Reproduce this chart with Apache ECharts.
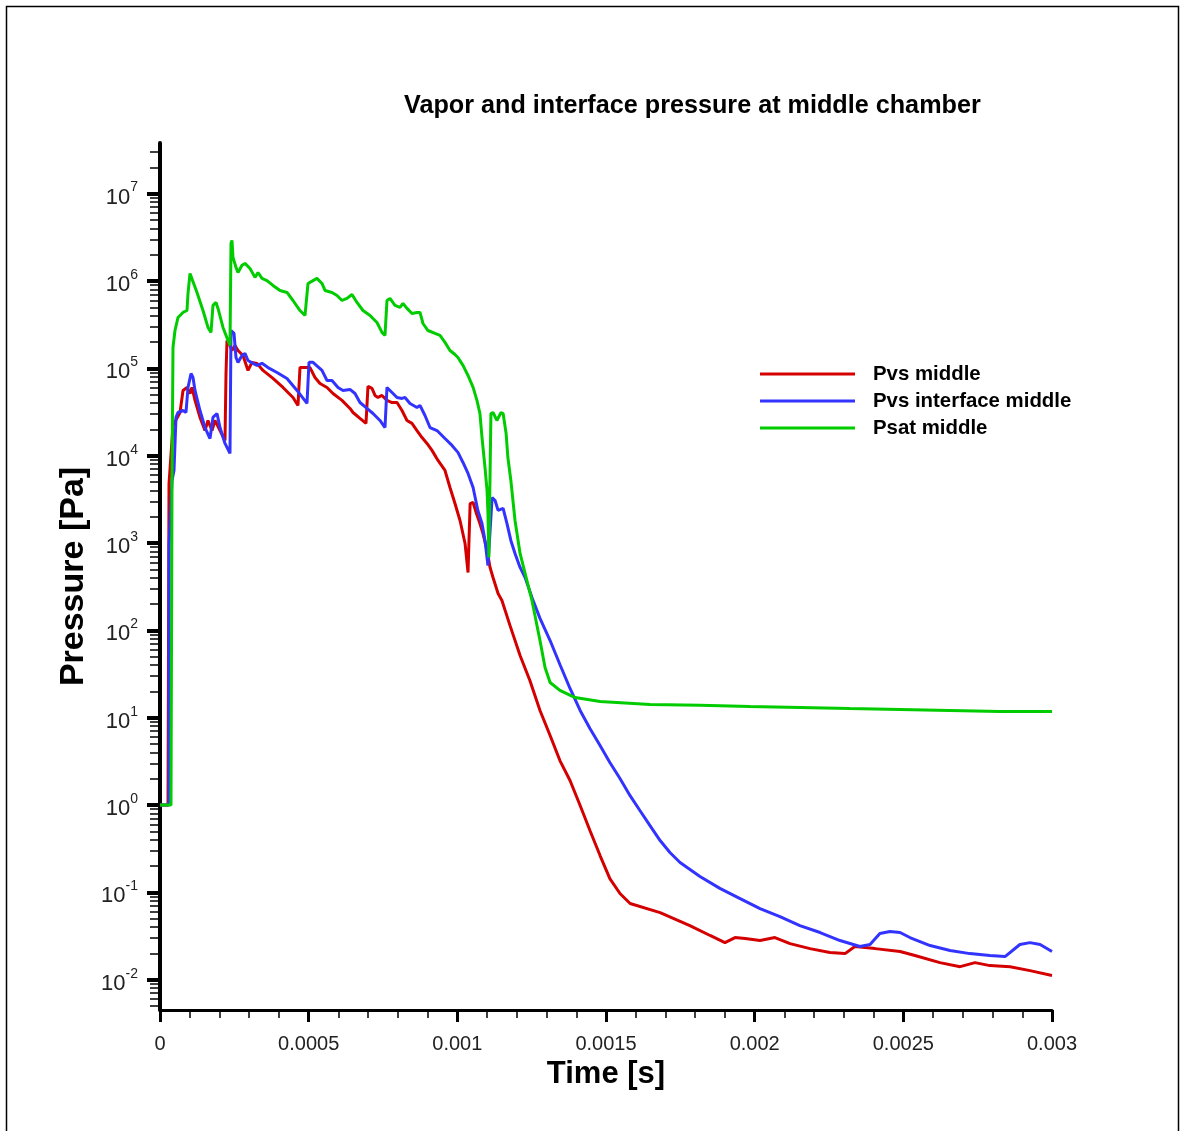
<!DOCTYPE html>
<html>
<head>
<meta charset="utf-8">
<script src="https://cdn.jsdelivr.net/npm/echarts@6/dist/echarts.min.js"></script>
<style>
  html, body { margin: 0; padding: 0; background: #fff; }
  #chart { width: 1182px; height: 1131px; }
</style>
</head>
<body>
<div id="chart"></div>
<script>
// Series: [time (s), pressure (Pa)]
const pvsMiddle = [
  [0, 1.0], [2.69e-5, 1.0], [3.03e-5, 4.8e3], [4.37e-5, 2.22e4], [6.73e-5, 3.12e4],
  [7.74e-5, 5.58e4], [9.08e-5, 6.04e4], [1.009e-4, 5.15e4], [1.076e-4, 6.04e4], [1.177e-4, 4.29e4],
  [1.345e-4, 2.74e4], [1.513e-4, 1.94e4], [1.614e-4, 2.53e4], [1.749e-4, 1.94e4], [1.85e-4, 2.53e4],
  [2.018e-4, 1.94e4], [2.186e-4, 1.49e4], [2.22e-4, 8.73e4], [2.253e-4, 2.08e5], [2.354e-4, 1.83e5],
  [2.421e-4, 1.60e5], [2.522e-4, 1.83e5], [2.623e-4, 1.60e5], [2.791e-4, 1.40e5], [2.96e-4, 9.46e4],
  [3.094e-4, 1.17e5], [3.262e-4, 1.14e5], [3.464e-4, 9.46e4], [3.8e-4, 7.66e4], [4.137e-4, 6.04e4],
  [4.473e-4, 4.64e4], [4.641e-4, 3.76e4], [4.708e-4, 1.02e5], [5.045e-4, 1.02e5], [5.213e-4, 7.86e4],
  [5.381e-4, 6.71e4], [5.617e-4, 6.04e4], [5.818e-4, 5.15e4], [6.121e-4, 4.29e4], [6.39e-4, 3.47e4],
  [6.491e-4, 3.12e4], [6.726e-4, 2.67e4], [6.928e-4, 2.34e4], [6.995e-4, 6.2e4], [7.13e-4, 5.88e4],
  [7.231e-4, 4.89e4], [7.332e-4, 4.64e4], [7.466e-4, 4.89e4], [7.634e-4, 4.29e4], [7.803e-4, 4.06e4],
  [7.971e-4, 4.06e4], [8.139e-4, 3.29e4], [8.307e-4, 2.53e4], [8.475e-4, 2.34e4], [8.643e-4, 1.94e4],
  [8.812e-4, 1.61e4], [8.98e-4, 1.38e4], [9.148e-4, 1.15e4], [9.35e-4, 8.81e3], [9.585e-4, 6.77e3],
  [9.753e-4, 4.32e3], [9.921e-4, 2.83e3], [1.009e-3, 1.81e3], [1.026e-3, 987], [1.036e-3, 459],
  [1.043e-3, 2.83e3], [1.053e-3, 2.91e3], [1.063e-3, 2.24e3], [1.076e-3, 1.67e3], [1.086e-3, 1.29e3],
  [1.1e-3, 821], [1.11e-3, 525], [1.12e-3, 403], [1.137e-3, 264], [1.15e-3, 220],
  [1.177e-3, 114], [1.211e-3, 51.5], [1.244e-3, 26.6], [1.278e-3, 12.1], [1.312e-3, 6.25],
  [1.345e-3, 3.23], [1.379e-3, 1.91], [1.413e-3, 0.987], [1.446e-3, 0.511], [1.48e-3, 0.264],
  [1.513e-3, 0.144], [1.547e-3, 0.097], [1.581e-3, 0.0745], [1.682e-3, 0.0587], [1.782e-3, 0.0417],
  [1.85e-3, 0.0321], [1.9e-3, 0.0266], [1.934e-3, 0.0304], [1.968e-3, 0.0296], [2.018e-3, 0.0281],
  [2.068e-3, 0.0304], [2.119e-3, 0.0259], [2.186e-3, 0.0227], [2.253e-3, 0.0205], [2.304e-3, 0.0199],
  [2.337e-3, 0.024], [2.405e-3, 0.0227], [2.489e-3, 0.021], [2.539e-3, 0.0189], [2.623e-3, 0.0157],
  [2.691e-3, 0.0141], [2.741e-3, 0.0157], [2.791e-3, 0.0145], [2.859e-3, 0.0141], [2.926e-3, 0.0127],
  [3.0e-3, 0.0112]
];

const pvsInterfaceMiddle = [
  [0, 1.0], [3.0e-5, 1.0], [3.03e-5, 937], [4.04e-5, 5.2e3], [4.71e-5, 6.77e3],
  [5.38e-5, 2.74e4], [6.05e-5, 3.12e4], [7.74e-5, 3.29e4], [8.74e-5, 3.12e4], [9.42e-5, 6.04e4],
  [1.043e-4, 8.73e4], [1.11e-4, 7.86e4], [1.177e-4, 5.58e4], [1.345e-4, 3.29e4], [1.513e-4, 2.1e4],
  [1.682e-4, 1.57e4], [1.782e-4, 2.74e4], [1.917e-4, 3.04e4], [2.018e-4, 2.1e4], [2.186e-4, 1.38e4],
  [2.354e-4, 1.06e4], [2.388e-4, 2.71e5], [2.489e-4, 2.51e5], [2.556e-4, 1.33e5], [2.623e-4, 1.17e5],
  [2.758e-4, 1.40e5], [2.859e-4, 1.48e5], [2.96e-4, 1.23e5], [3.128e-4, 1.14e5], [3.262e-4, 1.08e5],
  [3.43e-4, 1.14e5], [3.632e-4, 1.02e5], [3.935e-4, 8.97e4], [4.271e-4, 7.66e4], [4.608e-4, 5.58e4],
  [4.944e-4, 3.96e4], [5.011e-4, 1.17e5], [5.146e-4, 1.17e5], [5.448e-4, 9.46e4], [5.617e-4, 7.26e4],
  [5.785e-4, 7.26e4], [5.987e-4, 6.04e4], [6.155e-4, 5.58e4], [6.39e-4, 5.73e4], [6.558e-4, 5.15e4],
  [6.726e-4, 4.06e4], [6.962e-4, 3.47e4], [7.164e-4, 3.04e4], [7.399e-4, 2.53e4], [7.567e-4, 2.1e4],
  [7.634e-4, 6.04e4], [7.803e-4, 5.29e4], [7.971e-4, 4.64e4], [8.139e-4, 4.52e4], [8.24e-4, 4.64e4],
  [8.408e-4, 3.96e4], [8.643e-4, 3.56e4], [8.744e-4, 3.76e4], [8.912e-4, 2.88e4], [9.081e-4, 2.1e4],
  [9.316e-4, 1.94e4], [9.585e-4, 1.57e4], [9.821e-4, 1.31e4], [1.002e-3, 1.09e4], [1.019e-3, 8.36e3],
  [1.036e-3, 6.25e3], [1.053e-3, 4.32e3], [1.069e-3, 2.36e3], [1.083e-3, 1.67e3], [1.093e-3, 1.07e3],
  [1.103e-3, 553], [1.117e-3, 3.32e3], [1.127e-3, 3.07e3], [1.137e-3, 2.36e3], [1.154e-3, 2.49e3],
  [1.167e-3, 1.67e3], [1.18e-3, 1.07e3], [1.194e-3, 759], [1.211e-3, 525], [1.228e-3, 403],
  [1.251e-3, 238], [1.278e-3, 137], [1.312e-3, 76.5], [1.345e-3, 40.6], [1.379e-3, 21.6],
  [1.413e-3, 12.1], [1.446e-3, 7.52], [1.48e-3, 4.8], [1.513e-3, 3.07], [1.547e-3, 2.01],
  [1.581e-3, 1.28], [1.614e-3, 0.865], [1.648e-3, 0.582], [1.682e-3, 0.392], [1.715e-3, 0.286],
  [1.749e-3, 0.22], [1.816e-3, 0.152], [1.883e-3, 0.111], [1.951e-3, 0.085], [2.018e-3, 0.0653],
  [2.085e-3, 0.0529], [2.152e-3, 0.0417], [2.22e-3, 0.0347], [2.287e-3, 0.0281], [2.354e-3, 0.024],
  [2.388e-3, 0.0253], [2.421e-3, 0.0338], [2.455e-3, 0.0356], [2.489e-3, 0.0347], [2.522e-3, 0.0304],
  [2.59e-3, 0.0246], [2.657e-3, 0.0216], [2.724e-3, 0.0199], [2.791e-3, 0.0189], [2.842e-3, 0.0184],
  [2.892e-3, 0.0253], [2.926e-3, 0.0266], [2.96e-3, 0.0253], [3.0e-3, 0.021]
];

const psatMiddle = [
  [0, 1.0], [3.7e-5, 1.0], [4.04e-5, 5.2e3], [4.37e-5, 1.73e5], [5.04e-5, 2.71e5],
  [6.05e-5, 3.82e5], [7.74e-5, 4.36e5], [9.08e-5, 4.59e5], [9.42e-5, 7.2e5], [1.009e-4, 1.22e6],
  [1.076e-4, 1.16e6], [1.244e-4, 7.39e5], [1.446e-4, 4.59e5], [1.614e-4, 2.94e5], [1.715e-4, 2.58e5],
  [1.782e-4, 5.25e5], [1.883e-4, 5.68e5], [1.951e-4, 4.85e5], [2.119e-4, 2.94e5], [2.287e-4, 2.08e5],
  [2.354e-4, 1.83e5], [2.388e-4, 2.69e6], [2.421e-4, 2.91e6], [2.455e-4, 1.86e6], [2.556e-4, 1.43e6],
  [2.623e-4, 1.25e6], [2.758e-4, 1.51e6], [2.859e-4, 1.59e6], [3.027e-4, 1.39e6], [3.195e-4, 1.1e6],
  [3.296e-4, 1.25e6], [3.43e-4, 1.07e6], [3.599e-4, 1.01e6], [3.8e-4, 8.89e5], [4.036e-4, 7.79e5],
  [4.271e-4, 7.39e5], [4.473e-4, 5.98e5], [4.708e-4, 4.59e5], [4.877e-4, 4.03e5], [4.944e-4, 4.03e5],
  [4.978e-4, 9.37e5], [5.146e-4, 1.01e6], [5.28e-4, 1.07e6], [5.448e-4, 9.37e5], [5.549e-4, 7.79e5],
  [5.785e-4, 7.39e5], [5.953e-4, 6.83e5], [6.121e-4, 5.98e5], [6.289e-4, 6.31e5], [6.457e-4, 7.01e5],
  [6.625e-4, 5.68e5], [6.827e-4, 4.59e5], [7.063e-4, 4.03e5], [7.298e-4, 3.35e5], [7.466e-4, 2.58e5],
  [7.567e-4, 2.38e5], [7.634e-4, 5.98e5], [7.735e-4, 6.31e5], [7.903e-4, 5.25e5], [8.072e-4, 4.98e5],
  [8.173e-4, 5.53e5], [8.307e-4, 4.85e5], [8.475e-4, 4.25e5], [8.643e-4, 4.36e5], [8.744e-4, 4.36e5],
  [8.845e-4, 3.26e5], [9.013e-4, 2.71e5], [9.249e-4, 2.51e5], [9.417e-4, 2.38e5], [9.585e-4, 1.98e5],
  [9.753e-4, 1.6e5], [9.921e-4, 1.44e5], [1.002e-3, 1.33e5], [1.019e-3, 1.08e5], [1.036e-3, 8.28e4],
  [1.053e-3, 6.04e4], [1.066e-3, 4.29e4], [1.076e-3, 3.04e4], [1.083e-3, 1.61e4], [1.093e-3, 7.33e3],
  [1.1e-3, 3.99e3], [1.103e-3, 2.18e3], [1.106e-3, 682], [1.113e-3, 3.04e4], [1.12e-3, 3.12e4],
  [1.133e-3, 2.53e4], [1.147e-3, 3.12e4], [1.154e-3, 3.04e4], [1.164e-3, 1.8e4], [1.17e-3, 9.53e3],
  [1.18e-3, 5.2e3], [1.194e-3, 1.81e3], [1.211e-3, 759], [1.234e-3, 372], [1.251e-3, 220],
  [1.278e-3, 76.5], [1.295e-3, 37.6], [1.312e-3, 25.3], [1.345e-3, 20.5], [1.396e-3, 17.0],
  [1.48e-3, 15.3], [1.648e-3, 14.2], [1.816e-3, 13.9], [1.984e-3, 13.4], [2.152e-3, 13.1],
  [2.32e-3, 12.7], [2.489e-3, 12.4], [2.657e-3, 12.1], [2.825e-3, 11.8], [3.0e-3, 11.8]
];

const seriesNames = ['Pvs middle', 'Pvs interface middle', 'Psat middle'];
const seriesData = [pvsMiddle, pvsInterfaceMiddle, psatMiddle];
const seriesColors = ['#d40000', '#3333ff', '#00cc00'];

const xTickLabels = ['0', '0.0005', '0.001', '0.0015', '0.002', '0.0025', '0.003'];
const xStep = 0.0005;
const yMin = 0.0045;
const yMax = 3.8e7;
const yMajorTicks = [1e-2, 1e-1, 1, 1e1, 1e2, 1e3, 1e4, 1e5, 1e6, 1e7];

// logarithmic minor ticks (2..9 within each decade)
const yMinorTicks = [];
for (let e = -3; e <= 7; e++) {
  for (let k = 2; k <= 9; k++) {
    const v = k * Math.pow(10, e);
    if (v >= yMin && v <= yMax) yMinorTicks.push(v);
  }
}

const FONT = 'Liberation Sans';

const chart = echarts.init(document.getElementById('chart'), null, { renderer: 'canvas' });

const option = {
  animation: false,
  backgroundColor: '#ffffff',
  title: {
    text: 'Vapor and interface pressure at middle chamber',
    left: 404,
    top: 94,
    padding: 0,
    textStyle: { fontFamily: FONT, fontWeight: 'bold', fontSize: 25.2, color: '#000' }
  },
  legend: {
    orient: 'vertical',
    left: 760,
    top: 364,
    padding: 0,
    itemWidth: 95,
    itemHeight: 3,
    itemGap: 7,
    icon: 'rect',
    data: seriesNames,
    textStyle: { fontFamily: FONT, fontWeight: 'bold', fontSize: 20.4, lineHeight: 20, color: '#000', padding: [0, 0, 0, 13] }
  },
  graphic: [{
    type: 'rect',
    silent: true,
    z: -10,
    shape: { x: 6.5, y: 6.5, width: 1172, height: 1140 },
    style: { fill: 'transparent', stroke: '#000', lineWidth: 1.5 }
  }],
  grid: { left: 160, top: 143, right: 130, bottom: 121, outerBoundsMode: 'none' },
  xAxis: {
    type: 'value',
    min: 0,
    max: 0.003,
    interval: xStep,
    name: 'Time [s]',
    nameLocation: 'middle',
    nameGap: 42,
    nameTextStyle: { fontFamily: FONT, fontWeight: 'bold', fontSize: 31, color: '#000' },
    axisLine: { show: true, onZero: false, lineStyle: { color: '#000', width: 3 } },
    axisTick: { show: true, inside: false, length: 12, lineStyle: { color: '#000', width: 3 } },
    minorTick: { show: true, splitNumber: 5, length: 8, lineStyle: { color: '#000', width: 1.5 } },
    splitLine: { show: false },
    minorSplitLine: { show: false },
    axisLabel: {
      margin: 24,
      fontFamily: FONT,
      fontSize: 20,
      color: '#222',
      formatter: v => xTickLabels[Math.round(v / xStep)]
    }
  },
  yAxis: [{
    type: 'log',
    logBase: 10,
    min: yMin,
    max: yMax,
    position: 'left',
    offset: 0,
    name: 'Pressure [Pa]',
    nameLocation: 'middle',
    nameGap: 65,
    nameTextStyle: { fontFamily: FONT, fontWeight: 'bold', fontSize: 34, color: '#000' },
    axisLine: { show: true, onZero: false, lineStyle: { color: '#000', width: 4 } },
    axisTick: { show: true, inside: false, length: 13, customValues: yMajorTicks, lineStyle: { color: '#000', width: 4 } },
    minorTick: { show: false },
    splitLine: { show: false },
    axisLabel: {
      customValues: yMajorTicks,
      margin: 22,
      padding: [8, 0, 0, 0],
      formatter: v => '{b|10}{s|' + Math.round(Math.log10(v)) + '}',
      rich: {
        b: { fontFamily: FONT, fontSize: 22, lineHeight: 22, color: '#222', verticalAlign: 'bottom' },
        s: { fontFamily: FONT, fontSize: 14, lineHeight: 14, color: '#222', verticalAlign: 'bottom', padding: [0, 0, 14, 0] }
      }
    }
  }, {
    type: 'log',
    logBase: 10,
    min: yMin,
    max: yMax,
    position: 'left',
    offset: 0,
    axisLine: { show: false },
    axisTick: { show: true, inside: false, length: 10, customValues: yMinorTicks, lineStyle: { color: '#000', width: 1.5 } },
    axisLabel: { show: false },
    splitLine: { show: false }
  }],
  series: seriesNames.map((name, i) => ({
    name: name,
    type: 'line',
    xAxisIndex: 0,
    yAxisIndex: 0,
    data: seriesData[i],
    showSymbol: false,
    symbol: 'none',
    lineStyle: { color: seriesColors[i], width: 3 },
    itemStyle: { color: seriesColors[i] },
    z: 2 + i
  }))
};

chart.setOption(option);
</script>
</body>
</html>
